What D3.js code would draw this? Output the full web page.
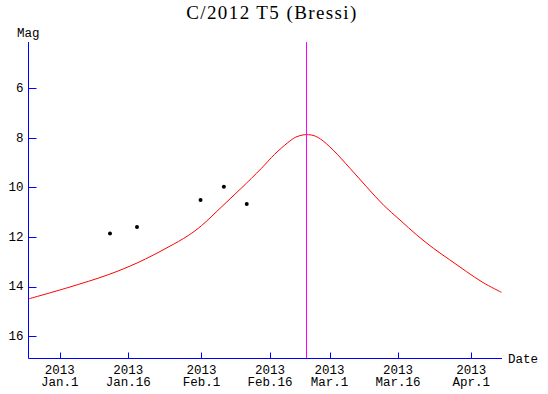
<!DOCTYPE html>
<html>
<head>
<meta charset="utf-8">
<script src="https://cdn.jsdelivr.net/npm/d3@7"></script>
<style>
  body { margin: 0; background: #fff; }
  text { font-family: "Liberation Mono", monospace; font-size: 12.5px; fill: #000; }
  .title { font-family: "Liberation Serif", serif; font-size: 19px; letter-spacing: 1.4px; }
</style>
</head>
<body>
<script>
//Width and height
var w = 548;
var h = 394;

//Chart title and axis names
var title = "C/2012 T5 (Bressi)";
var yName = "Mag";
var xName = "Date";

//Tick values (days from 2013 Jan.1) and their labels
var tickDays = [0, 15, 31, 46, 59, 74, 90];
var tickLabels = ["Jan.1", "Jan.16", "Feb.1", "Feb.16", "Mar.1", "Mar.16", "Apr.1"];
var magTicks = [6, 8, 10, 12, 14, 16];

//Predicted magnitude curve
var curveDay = [-6.9, 1.8, 10.6, 17.1, 23.7, 28.1, 31.0, 35.3, 39.7, 44.1, 47.0, 49.9, 51.6, 53.2,
                54.4, 55.6, 57.0, 59.8, 63.5, 67.1, 70.8, 74.4, 78.1, 81.7, 85.3, 89.0, 92.6, 96.6];
var curveMag = [14.50, 14.04, 13.52, 13.03, 12.41, 11.94, 11.54, 10.80, 10.03, 9.23, 8.66, 8.19, 7.97, 7.88,
                7.87, 7.91, 8.04, 8.49, 9.23, 9.97, 10.71, 11.31, 11.92, 12.45, 12.92, 13.40, 13.84, 14.23];

//Observed magnitudes
var obsDay = [11.0, 16.9, 30.8, 35.9, 40.9];
var obsMag = [11.86, 11.59, 10.50, 9.97, 10.67];

//Perihelion date (days from 2013 Jan.1)
var periDay = 53.9;

var day0 = Date.UTC(2013, 0, 1);
function toDate(d) { return new Date(day0 + d * 864e5); }

//Scales
var x = d3.scaleUtc()
          .domain([toDate(-6.93), toDate(96.72)])
          .range([28, 502]);

var y = d3.scaleLinear()
          .domain([4.13, 16.88])
          .range([42, 358]);

//Create SVG element
var svg = d3.select("body")
            .append("svg")
            .attr("width", w)
            .attr("height", h);

//Title
svg.append("text")
   .attr("class", "title")
   .attr("x", 272)
   .attr("y", 19)
   .attr("text-anchor", "middle")
   .text(title);

//Curve
var line = d3.line()
             .x(function(d, i) { return x(toDate(curveDay[i])); })
             .y(function(d) { return y(d); })
             .curve(d3.curveCatmullRom.alpha(0.5));

svg.append("path")
   .datum(curveMag)
   .attr("d", line)
   .attr("fill", "none")
   .attr("stroke", "#ff0000")
   .attr("stroke-width", 1);

//Perihelion line
svg.append("line")
   .attr("x1", Math.round(x(toDate(periDay))) + 0.5)
   .attr("x2", Math.round(x(toDate(periDay))) + 0.5)
   .attr("y1", y.range()[0])
   .attr("y2", y.range()[1])
   .attr("stroke", "#ff00ff");

//Observations
svg.selectAll("circle")
   .data(obsMag)
   .enter()
   .append("circle")
   .attr("cx", function(d, i) { return x(toDate(obsDay[i])); })
   .attr("cy", function(d) { return y(d); })
   .attr("r", 2)
   .attr("fill", "#000");

//Axes
var axisColor = "#0000ff";
var x0 = x.range()[0] + 0.5;
var yb = y.range()[1] + 0.5;

var yAxis = svg.append("g");
yAxis.append("line")
     .attr("x1", x0).attr("x2", x0)
     .attr("y1", y.range()[0]).attr("y2", yb)
     .attr("stroke", axisColor);
yAxis.selectAll(".ytick")
     .data(magTicks)
     .enter()
     .append("line")
     .attr("x1", x0).attr("x2", x0 + 8)
     .attr("y1", function(d) { return Math.round(y(d)) + 0.5; })
     .attr("y2", function(d) { return Math.round(y(d)) + 0.5; })
     .attr("stroke", axisColor);
yAxis.selectAll(".ylabel")
     .data(magTicks)
     .enter()
     .append("text")
     .attr("x", 23.5)
     .attr("y", function(d) { return y(d) + 3.6; })
     .attr("text-anchor", "end")
     .text(function(d) { return d; });

var xAxis = svg.append("g");
xAxis.append("line")
     .attr("x1", x0).attr("x2", x.range()[1])
     .attr("y1", yb).attr("y2", yb)
     .attr("stroke", axisColor);
xAxis.selectAll(".xtick")
     .data(tickDays)
     .enter()
     .append("line")
     .attr("x1", function(d) { return Math.round(x(toDate(d))) + 0.5; })
     .attr("x2", function(d) { return Math.round(x(toDate(d))) + 0.5; })
     .attr("y1", yb - 6).attr("y2", yb)
     .attr("stroke", axisColor);
xAxis.selectAll(".xyear")
     .data(tickDays)
     .enter()
     .append("text")
     .attr("x", function(d) { return x(toDate(d)); })
     .attr("y", 373.5)
     .attr("text-anchor", "middle")
     .text("2013");
xAxis.selectAll(".xlabel")
     .data(tickDays)
     .enter()
     .append("text")
     .attr("x", function(d) { return x(toDate(d)); })
     .attr("y", 386)
     .attr("text-anchor", "middle")
     .text(function(d, i) { return tickLabels[i]; });

//Axis names
svg.append("text")
   .attr("x", 17)
   .attr("y", 37)
   .text(yName);

svg.append("text")
   .attr("x", 508)
   .attr("y", 363)
   .text(xName);
</script>
</body>
</html>
